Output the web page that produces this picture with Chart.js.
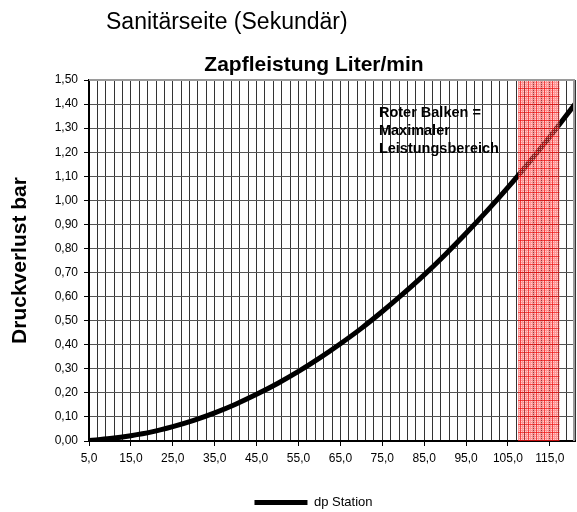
<!DOCTYPE html>
<html><head><meta charset="utf-8">
<script src="https://cdn.jsdelivr.net/npm/chart.js@4/dist/chart.umd.min.js"></script>
<style>html,body{margin:0;padding:0;background:#fff;}</style>
</head><body>
<canvas id="c" width="577" height="512"></canvas>
<script>
// ---- data ----
const flowRates    = [5, 10, 15, 20, 25, 30, 35, 40, 45, 50, 55, 60, 65, 70, 75, 80, 85, 90, 95, 100, 105, 110, 115, 121];
const pressureDrop = [0.002, 0.010, 0.022, 0.038, 0.060, 0.086, 0.117, 0.153, 0.194, 0.239, 0.289, 0.344, 0.404, 0.468, 0.538, 0.612, 0.690, 0.774, 0.863, 0.956, 1.054, 1.157, 1.264, 1.400];
const seriesName   = 'dp Station';
const xLabelValues = [5, 15, 25, 35, 45, 55, 65, 75, 85, 95, 105, 115];
const xRange = [5, 121];
const yRange = [0, 1.5];
const bandRange = [107.4, 117.3];
const pageHeading = 'Sanitärseite (Sekundär)';
const chartTitle = 'Zapfleistung Liter/min';
const yAxisTitle = 'Druckverlust bar';
const bandNote = ['Roter Balken =', 'Maximaler', 'Leistungsbereich'];
const bandNoteAnchor = [74.2, 1.345];

const FONT = "'Liberation Sans', Arial, sans-serif";

function makePattern() {
  const t = document.createElement('canvas');
  t.width = 8; t.height = 8;
  const g = t.getContext('2d');
  g.fillStyle = 'rgba(255,60,60,0.55)';
  g.fillRect(0, 0, 8, 8);
  g.fillStyle = 'rgba(255,255,255,0.55)';
  for (let x = 1; x < 8; x += 2) for (let y = 1; y < 8; y += 2) g.fillRect(x, y, 1, 1);
  g.fillStyle = 'rgba(235,0,0,0.55)';
  g.fillRect(0, 0, 8, 1);
  g.fillRect(0, 0, 1, 8);
  return g.createPattern(t, 'repeat');
}

const extras = {
  id: 'extras',
  afterLayout(chart) {
    const lg = chart.legend;
    if (lg) { lg.left += 52; lg.top += 13; lg.bottom += 13; }
  },
  afterDatasetsDraw(chart) {
    const {ctx, chartArea: a, scales: {x, y}} = chart;
    const x0 = x.getPixelForValue(bandRange[0]);
    const x1 = x.getPixelForValue(bandRange[1]);
    ctx.save();
    ctx.fillStyle = makePattern();
    ctx.fillRect(x0, a.top, x1 - x0, a.bottom - a.top);
    ctx.strokeStyle = '#9a9a9a';
    ctx.lineWidth = 2;
    ctx.beginPath();
    ctx.moveTo(a.left, a.top);
    ctx.lineTo(a.right - 1, a.top);
    ctx.lineTo(a.right - 1, a.bottom);
    ctx.stroke();
    ctx.fillStyle = '#000';
    ctx.font = 'bold 14.5px ' + FONT;
    ctx.textBaseline = 'alphabetic';
    ctx.textAlign = 'left';
    const nx = x.getPixelForValue(bandNoteAnchor[0]);
    const ny = y.getPixelForValue(bandNoteAnchor[1]);
    bandNote.forEach((s, i) => ctx.fillText(s, nx, ny + i * 18));
    ctx.restore();
  },
  afterDraw(chart) {
    const {ctx} = chart;
    ctx.save();
    ctx.fillStyle = '#000';
    ctx.textBaseline = 'alphabetic';
    ctx.font = '23px ' + FONT;
    ctx.textAlign = 'left';
    ctx.fillText(pageHeading, 106, 29);
    ctx.font = 'bold 21px ' + FONT;
    ctx.textAlign = 'center';
    ctx.fillText(chartTitle, 314, 71);
    ctx.restore();
  }
};

const fmt = (v, d) => v.toFixed(d).replace('.', ',');

new Chart(document.getElementById('c'), {
  type: 'line',
  data: {
    datasets: [{
      label: seriesName,
      data: flowRates.map((f, i) => ({x: f, y: pressureDrop[i]})),
      borderColor: '#000',
      backgroundColor: '#000',
      borderWidth: 5,
      pointRadius: 0,
      cubicInterpolationMode: 'monotone',
      fill: false
    }]
  },
  options: {
    responsive: false,
    animation: false,
    devicePixelRatio: 1,
    layout: {padding: {left: 0, right: 2, top: 80, bottom: 6}},
    plugins: {
      title: {display: false},
      tooltip: {enabled: false},
      legend: {
        position: 'bottom',
        labels: {
          usePointStyle: true,
          pointStyle: 'line',
          pointStyleWidth: 53,
          color: '#000',
          font: {family: FONT, size: 13}
        }
      }
    },
    scales: {
      x: {
        type: 'linear',
        min: xRange[0], max: xRange[1],
        afterFit: s => { s.height = 32; s.paddingLeft = 0; s.paddingRight = 0; },
        border: {color: '#000', width: 2},
        grid: {
          color: '#333',
          lineWidth: 1,
          tickLength: 5,
          tickColor: c => (c.tick && xLabelValues.includes(Math.round(c.tick.value))) ? '#000' : 'rgba(0,0,0,0)'
        },
        ticks: {
          stepSize: 2,
          autoSkip: false,
          maxRotation: 0,
          padding: 5,
          color: '#000',
          font: {family: FONT, size: 12},
          callback: v => xLabelValues.includes(Math.round(v)) ? fmt(v, 1) : ''
        }
      },
      y: {
        min: yRange[0], max: yRange[1],
        afterFit: s => { s.width = 89; },
        border: {color: '#000', width: 2},
        grid: {color: '#555', lineWidth: 1, tickLength: 5, tickColor: '#000'},
        title: {
          display: true,
          text: yAxisTitle,
          color: '#000',
          font: {family: FONT, size: 21, weight: 'bold'},
          padding: {top: 8, bottom: 0}
        },
        ticks: {
          stepSize: 0.1,
          padding: 6,
          color: '#000',
          font: {family: FONT, size: 12},
          callback: v => fmt(v, 2)
        }
      }
    }
  },
  plugins: [extras]
});
</script>
</body></html>
